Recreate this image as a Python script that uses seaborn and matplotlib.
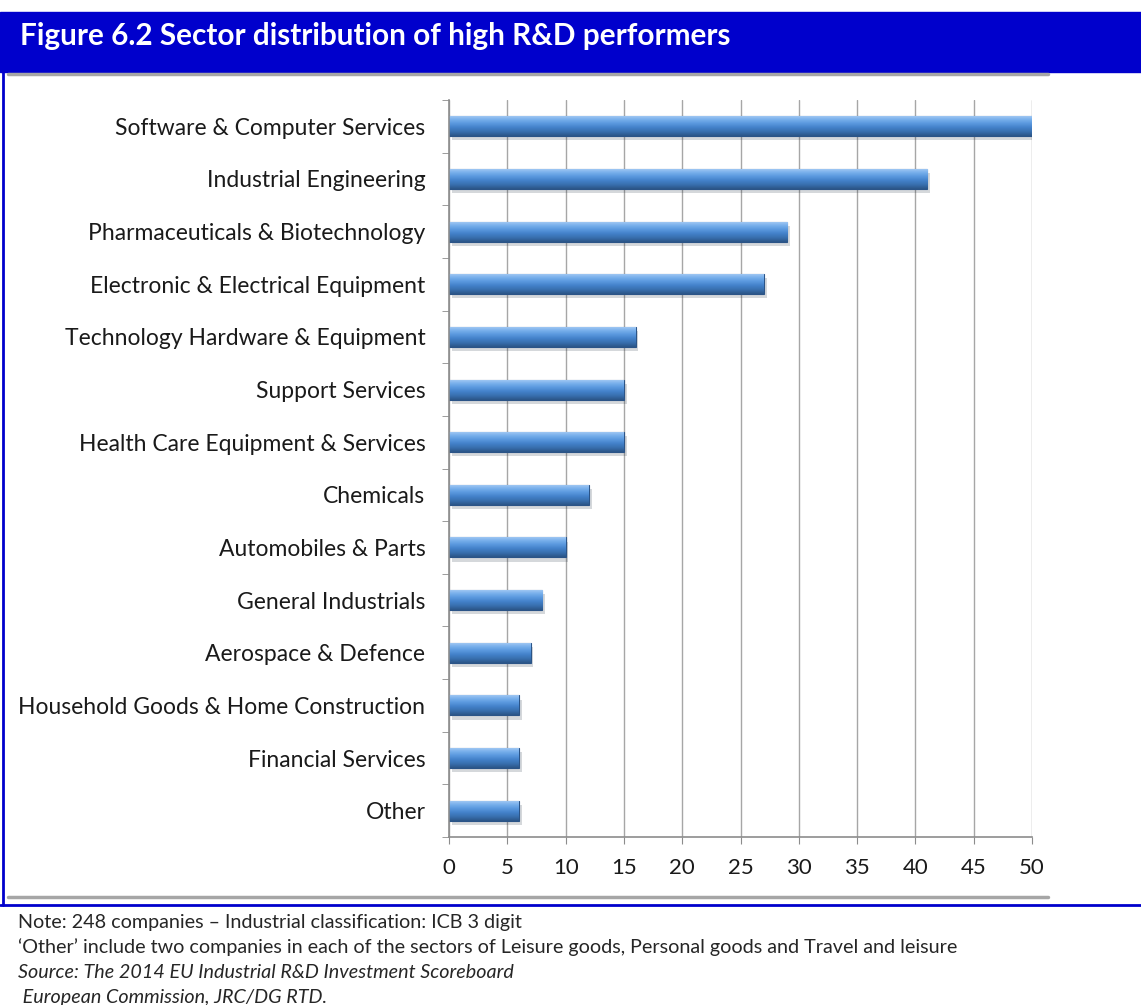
import numpy as np
import pandas as pd
import seaborn as sns
import matplotlib.pyplot as plt
from matplotlib.colors import LinearSegmentedColormap
from matplotlib.patches import Rectangle
from matplotlib.lines import Line2D
import matplotlib.patheffects as pe

# data
sectors = ['Software & Computer Services', 'Industrial Engineering',
           'Pharmaceuticals & Biotechnology', 'Electronic & Electrical Equipment',
           'Technology Hardware & Equipment', 'Support Services',
           'Health Care Equipment & Services', 'Chemicals', 'Automobiles & Parts',
           'General Industrials', 'Aerospace & Defence',
           'Household Goods & Home Construction', 'Financial Services', 'Other']
companies = [50, 41, 29, 27, 16, 15, 15, 12, 10, 8, 7, 6, 6, 6]
xticks = list(range(0, 55, 5))

title = 'Figure 6.2 Sector distribution of high R&D performers'
notes = ['Note: 248 companies \u2013 Industrial classification: ICB 3 digit',
         '\u2018Other\u2019 include two companies in each of the sectors of Leisure goods, Personal goods and Travel and leisure']
sources = ['Source: The 2014 EU Industrial R&D Investment Scoreboard',
           ' European Commission, JRC/DG RTD.']

df = pd.DataFrame({'Sector': sectors, 'Companies': companies})

sns.set_style('white')
plt.rcParams['font.family'] = ['Lato', 'DejaVu Sans']

W, H = 1141, 1005
fig = plt.figure(figsize=(W / 100, H / 100), dpi=100)
ax = fig.add_axes([449 / W, 1 - 837 / H, (1032 - 449) / W, (837 - 100) / H])

sns.barplot(data=df, x='Companies', y='Sector', orient='h', color='#4A86CF',
            width=0.38, edgecolor='#2B5487', linewidth=0.8, ax=ax)

# gradient fill to mimic the bevelled bars
cmap = LinearSegmentedColormap.from_list('bar', ['#A9CDF4', '#79B0EC', '#5A98DE',
                                                 '#4381C9', '#386FAE', '#2B5587'])
grad = np.linspace(0, 1, 64).reshape(-1, 1)
for p in ax.patches:
    p.set_path_effects([pe.SimplePatchShadow(offset=(2, -3), alpha=0.18), pe.Normal()])
    x0, y0, w, h = p.get_x(), p.get_y(), p.get_width(), p.get_height()
    im = ax.imshow(grad, extent=(x0, x0 + w, y0 + h, y0), aspect='auto', cmap=cmap,
                   origin='upper', zorder=p.get_zorder() + 0.1, interpolation='bilinear')
    im.set_clip_path(p)

ax.set_xlim(0, 50)
ax.set_ylim(len(sectors) - 0.5, -0.5)
ax.set_xticks(xticks)
ax.set_xlabel('')
ax.set_ylabel('')

ax.xaxis.grid(True, color='#A6A6A6', lw=1)
ax.yaxis.grid(False)
ax.set_axisbelow(True)
for s in ['top', 'right']:
    ax.spines[s].set_visible(False)
for s in ['left', 'bottom']:
    ax.spines[s].set_color('#8C8C8C')
    ax.spines[s].set_linewidth(1.2)

ax.set_yticks(np.arange(-0.5, len(sectors), 1), minor=True)
ax.tick_params(axis='y', which='major', length=0, pad=17, labelsize=16.5, labelcolor='#1a1a1a')
ax.tick_params(axis='y', which='minor', length=5, color='#8C8C8C', direction='out', left=True)
ax.tick_params(axis='x', which='major', length=5, color='#8C8C8C', direction='out',
               bottom=True, pad=10, labelsize=16, labelcolor='#1a1a1a')

# frame, title bar and notes
blue = '#0000CC'
fig.add_artist(Rectangle((0, 1 - 72 / H), 1, 60 / H, transform=fig.transFigure,
                         color=blue, zorder=0))
fig.text(20 / W, 1 - 36 / H, title, color='white', fontsize=21.4, fontweight='bold',
         va='center', ha='left')
fig.add_artist(Line2D([3 / W, 3 / W], [1 - 72 / H, 1 - 905 / H], color=blue, lw=2))
fig.add_artist(Line2D([8 / W, 1048 / W], [1 - 74 / H, 1 - 74 / H], color='#A6A6A6', lw=2.5))
fig.add_artist(Line2D([8 / W, 1048 / W], [1 - 897 / H, 1 - 897 / H], color='#A6A6A6', lw=2.5))
fig.add_artist(Line2D([0, 1], [1 - 905 / H, 1 - 905 / H], color=blue, lw=2))

for i, t in enumerate(notes):
    fig.text(18 / W, 1 - (922 + 25 * i) / H, t, fontsize=14.2, va='center', ha='left')
for i, t in enumerate(sources):
    fig.text(18 / W, 1 - (972 + 25 * i) / H, t, fontsize=14.2, va='center', ha='left',
             style='italic')

fig.savefig('out.png', dpi=100)
